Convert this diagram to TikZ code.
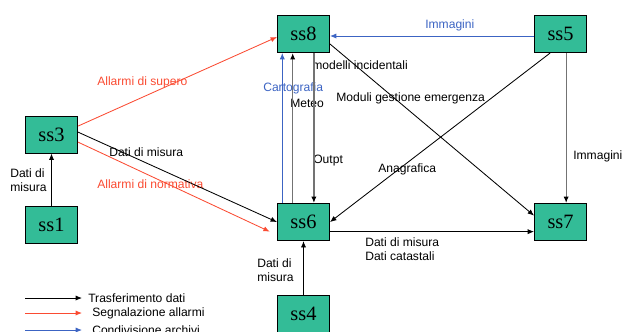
\documentclass[tikz,border=0pt]{standalone}
\usepackage{fontspec}
\setmainfont{Liberation Sans}
\newfontfamily\ssfont{Liberation Serif}
\usepackage{tikz}
\usetikzlibrary{arrows.meta, positioning}
\definecolor{cTeal}{RGB}{51,188,151}
\definecolor{cRed}{RGB}{250,75,50}
\definecolor{cBlue}{RGB}{60,100,195}
\definecolor{cGrey}{RGB}{115,115,115}
\tikzset{
	subsys/.style  ={rectangle, draw=black, line width=0.7pt, fill=cTeal, minimum width=1.3cm, minimum height=0.925cm, inner sep=0pt, font=\ssfont\fontsize{14.5}{17}\selectfont},
	lbl/.style     ={anchor=west, inner sep=0pt, align=left},
	% connector styles
	dati/.style    ={-{Latex[length=1.6mm,width=1.3mm]}, line width=0.6pt},
	datig/.style   ={-{Latex[length=1.6mm,width=1.3mm,color=black]}, line width=0.9pt, draw=cGrey},
	allarme/.style ={-{Latex[length=1.6mm,width=1.3mm]}, line width=0.6pt, draw=cRed},
	archivio/.style={-{Latex[length=1.6mm,width=1.3mm]}, line width=0.6pt, draw=cBlue},
}
\begin{document}
\begin{tikzpicture}[x=0.025cm, y=-0.025cm, font=\fontsize{8.6}{10}\selectfont]
	\useasboundingbox (0,0) rectangle (622,331);
	\clip (0,0) rectangle (622,331);
	\node[subsys] (ss8) at (303.5,34) {ss8};
	\node[subsys, right=5.1cm of ss8] (ss5) {ss5};
	\node[subsys, below=3.75cm of ss8] (ss6) {ss6};
	\node[subsys, below=3.75cm of ss5] (ss7) {ss7};
	\node[subsys, below=1.35cm of ss6] (ss4) {ss4};
	\node[subsys] (ss3) at (51.5,134.5) {ss3};
	\node[subsys, below=1.3cm of ss3] (ss1) {ss1};
	\node[lbl, text=cRed] (lsupero) at (97,82) {Allarmi di supero};
	\node[lbl] (lmisura3) at (109,152) {Dati di misura};
	\node[lbl, text=cRed] (lnorm) at (97,184) {Allarmi di normativa};
	\node[lbl] (lmisura1) at (10,180) {Dati di\\misura};
	\node[lbl, text=cBlue] (lcarto) at (263,88) {Cartografia};
	\node[lbl] (lmeteo) at (290,103) {Meteo};
	\node[lbl] (loutpt) at (313,161) {Outpt};
	\node[lbl] (lmodelli) at (312,65) {modelli incidentali};
	\node[lbl] (lmoduli) at (336,98) {Moduli gestione emergenza};
	\node[lbl, text=cBlue] (limm5) at (425,25) {Immagini};
	\node[lbl] (limm7) at (573,156) {Immagini};
	\node[lbl] (lanag) at (378,169) {Anagrafica};
	\node[lbl] (lcatast) at (365,249) {Dati di misura\\Dati catastali};
	\node[lbl] (lmisura4) at (257,270) {Dati di\\misura};
	\draw[dati] (ss1) -- (ss3);
	\draw[allarme] ([yshift=0.21cm]ss3.east) -- ([yshift=-0.075cm]ss8.west);
	\draw[dati] ([yshift=0.06cm]ss3.east) -- (ss6.west);
	\draw[allarme] ([yshift=-0.19cm]ss3.east) -- ([xshift=-0.18cm,yshift=-0.24cm]ss6.west);
	\draw[archivio] ([xshift=-0.53cm]ss6.north) -- ([xshift=-0.53cm]ss8.south);
	\draw[datig] ([xshift=-0.27cm]ss6.north) -- ([xshift=-0.27cm]ss8.south);
	\draw[datig] ([xshift=0.26cm]ss8.south) -- ([xshift=0.26cm]ss6.north);
	\draw[dati] ([yshift=-0.25cm]ss8.east) -- ([yshift=0.16cm]ss7.west);
	\draw[dati] ([xshift=-0.26cm]ss5.south) -- (ss6.east);
	\draw[archivio] ([yshift=-0.05cm]ss5.west) -- ([yshift=-0.05cm]ss8.east);
	\draw[datig] ([xshift=0.14cm]ss5.south) -- ([xshift=0.14cm]ss7.north);
	\draw[dati] ([yshift=-0.24cm]ss6.east) -- ([yshift=-0.24cm]ss7.west);
	\draw[dati] (ss4) -- (ss6);
	\coordinate (lg1) at (25,298);
	\coordinate (lg2) at (25,313);
	\coordinate (lg3) at (25,330);
	\node[lbl] (tx1) at (88,298) {Trasferimento dati};
	\node[lbl] (tx2) at (92,313) {Segnalazione allarmi};
	\node[lbl] (tx3) at (92,330) {Condivisione archivi};
	\draw[dati] (lg1) -- ([xshift=-0.15cm]tx1.west);
	\draw[allarme] (lg2) -- ([xshift=-0.25cm]tx2.west);
	\draw[archivio] (lg3) -- ([xshift=-0.25cm]tx3.west);
\end{tikzpicture}
\end{document}
